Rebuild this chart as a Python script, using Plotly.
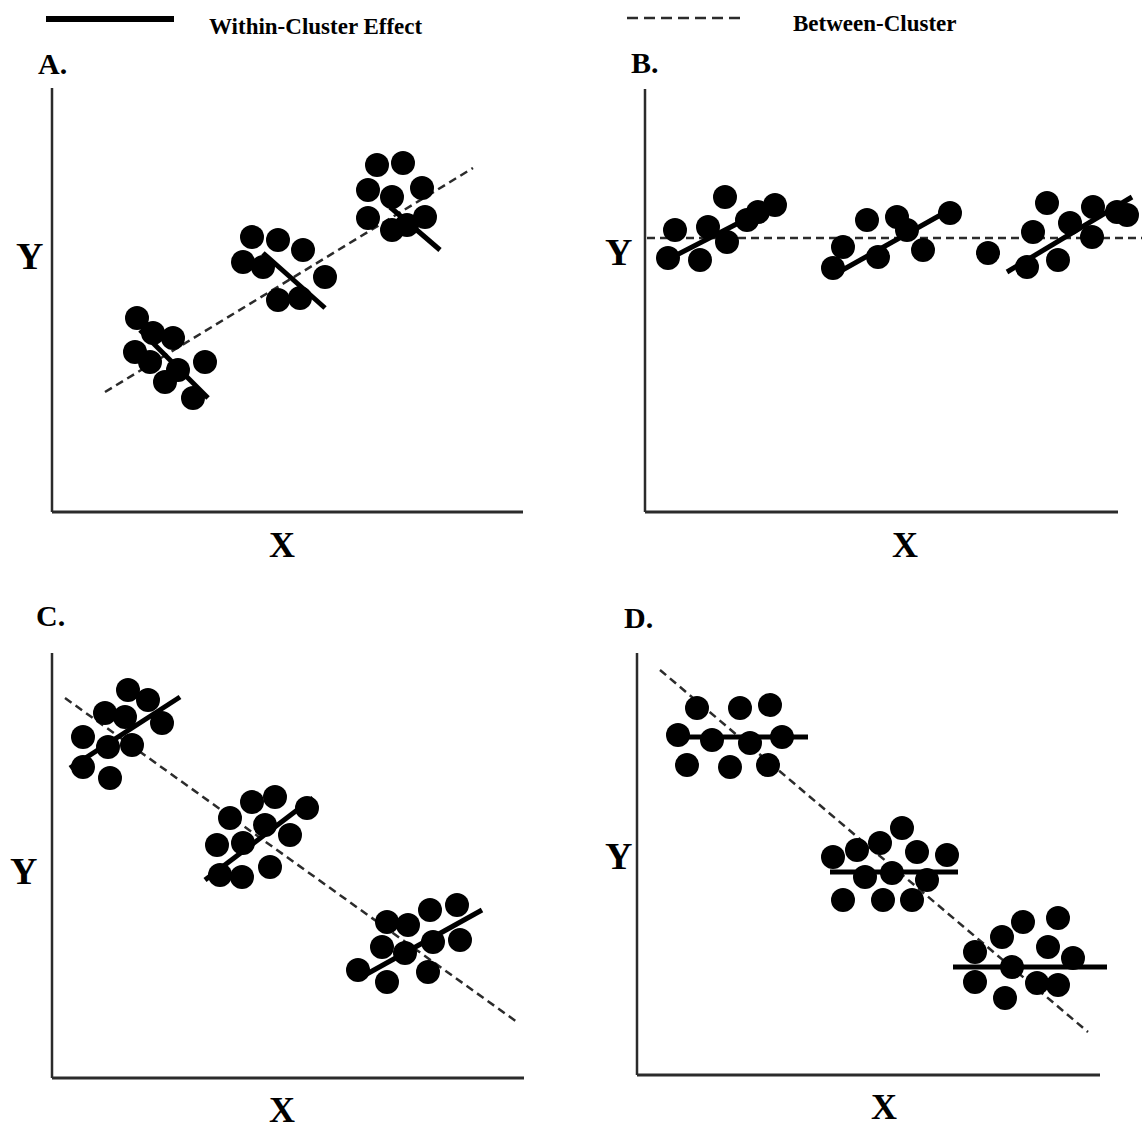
import plotly.graph_objects as go

# ---------------- DATA (arbitrary units) ----------------
# Panel A: positive between-cluster, negative within-cluster
A_dots_x = [85, 101, 121, 83, 98, 153, 126, 113, 141,
            200, 226, 191, 211, 251, 273, 226, 248,
            325, 351, 316, 340, 370, 316, 340, 355, 373]
A_dots_y = [194, 179, 174, 160, 150, 150, 142, 130, 114,
            275, 272, 250, 245, 262, 235, 212, 214,
            347, 349, 322, 315, 324, 294, 282, 287, 295]
A_within_x = [[88, 156], [211, 273], [338, 388]]
A_within_y = [[182, 114], [259, 204], [305, 262]]
A_between_x = [53, 421]
A_between_y = [120, 344]

# Panel B: flat between-cluster, positive within-cluster
B_dots_x = [30, 23, 55, 63, 80, 82, 102, 113, 130,
            198, 188, 222, 233, 252, 262, 278, 305,
            343, 382, 388, 402, 413, 425, 447, 448, 472, 482]
B_dots_y = [282, 254, 252, 285, 315, 270, 292, 300, 307,
            265, 244, 292, 255, 295, 282, 262, 299,
            259, 245, 280, 309, 252, 289, 275, 305, 300, 297]
B_within_x = [[18, 138], [185, 308], [362, 487]]
B_within_y = [[250, 312], [235, 304], [240, 315]]
B_between_x = [2, 497]
B_between_y = [274, 274]

# Panel C: negative between-cluster, positive within-cluster
C_dots_x = [76, 96, 53, 73, 110, 31, 56, 80, 31, 58,
            178, 200, 223, 165, 191, 213, 238, 255, 168, 190, 218,
            335, 356, 378, 405, 330, 353, 381, 408, 306, 335, 376]
C_dots_y = [388, 378, 365, 361, 355, 341, 331, 333, 311, 300,
            260, 276, 281, 233, 235, 253, 243, 270, 203, 201, 211,
            156, 153, 168, 173, 131, 125, 136, 138, 108, 96, 106]
C_within_x = [[18, 128], [153, 261], [313, 430]]
C_within_y = [[310, 381], [198, 280], [103, 168]]
C_between_x = [13, 465]
C_between_y = [380, 56]

# Panel D: negative between-cluster, zero within-cluster
D_dots_x = [60, 103, 133, 41, 75, 113, 145, 50, 93, 131,
            265, 196, 220, 243, 280, 310, 228, 255, 290, 206, 246, 275,
            386, 421, 365, 411, 338, 436, 375, 338, 400, 421, 368]
D_dots_y = [367, 367, 370, 340, 335, 332, 338, 310, 308, 310,
            247, 218, 225, 232, 223, 220, 198, 202, 195, 175, 175, 175,
            153, 157, 138, 128, 123, 117, 108, 93, 92, 90, 77]
D_within_x = [[33, 171], [193, 321], [316, 470]]
D_within_y = [[338, 338], [203, 203], [108, 108]]
D_between_x = [23, 451]
D_between_y = [405, 43]

panel_labels = ["A.", "B.", "C.", "D."]
legend_labels = ["Within-Cluster Effect", "Between-Cluster"]
x_title = "X"
y_title = "Y"

# ---------------- LAYOUT GEOMETRY ----------------
W, H = 1142, 1130
PAD = 8
# ox, oy: pixel position of axis origin; aw, ah: axis-line lengths; pw, ph: plotted extent
geom = [
    dict(ox=52, oy=512, aw=471, ah=424, pw=480, ph=428),
    dict(ox=645, oy=512, aw=473, ah=423, pw=497, ph=428),
    dict(ox=52, oy=1078, aw=472, ah=425, pw=480, ph=428),
    dict(ox=637, oy=1075, aw=463, ah=422, pw=478, ph=428),
]
# label pixel centers: panel letter, Y title, X title
label_pos = [
    dict(letter=(52, 63), y=(29, 256), x=(282, 545)),
    dict(letter=(645, 62), y=(618, 252), x=(905, 545)),
    dict(letter=(51, 615), y=(23, 871), x=(282, 1110)),
    dict(letter=(638, 617), y=(618, 856), x=(884, 1107)),
]

data = [
    (A_dots_x, A_dots_y, A_within_x, A_within_y, A_between_x, A_between_y),
    (B_dots_x, B_dots_y, B_within_x, B_within_y, B_between_x, B_between_y),
    (C_dots_x, C_dots_y, C_within_x, C_within_y, C_between_x, C_between_y),
    (D_dots_x, D_dots_y, D_within_x, D_within_y, D_between_x, D_between_y),
]

FONT = "Liberation Serif"
DARK = "#2b2b2b"


def pxx(x):
    return x / W


def pxy(y):
    return 1 - y / H


fig = go.Figure()
layout_axes = {}
shapes = []
annotations = []

for i, (g, d, lp) in enumerate(zip(geom, data, label_pos)):
    n = "" if i == 0 else str(i + 1)
    xa, ya = "x" + n, "y" + n
    dx, dy, wx, wy, bx, by = d
    layout_axes["xaxis" + n] = dict(
        domain=[pxx(g["ox"] - PAD), pxx(g["ox"] + g["pw"])],
        range=[-PAD, g["pw"]], visible=False, fixedrange=True, anchor=ya)
    layout_axes["yaxis" + n] = dict(
        domain=[pxy(g["oy"] + PAD), pxy(g["oy"] - g["ph"])],
        range=[-PAD, g["ph"]], visible=False, fixedrange=True, anchor=xa)

    # between-cluster dashed line
    fig.add_trace(go.Scatter(x=bx, y=by, mode="lines", xaxis=xa, yaxis=ya,
                             line=dict(color=DARK, width=2.5, dash="8px,5px"),
                             hoverinfo="skip", showlegend=False))
    # dots
    fig.add_trace(go.Scatter(x=dx, y=dy, mode="markers", xaxis=xa, yaxis=ya,
                             marker=dict(color="black", size=24, line=dict(width=0)),
                             hoverinfo="skip", showlegend=False))
    # within-cluster solid lines
    lx, ly = [], []
    for sx, sy in zip(wx, wy):
        lx += sx + [None]
        ly += sy + [None]
    fig.add_trace(go.Scatter(x=lx, y=ly, mode="lines", xaxis=xa, yaxis=ya,
                             line=dict(color="black", width=5),
                             hoverinfo="skip", showlegend=False))

    # L-shaped axes
    shapes.append(dict(type="line", xref=xa, yref=ya, x0=0, y0=0, x1=0, y1=g["ah"],
                       line=dict(color=DARK, width=2.5)))
    shapes.append(dict(type="line", xref=xa, yref=ya, x0=0, y0=0, x1=g["aw"], y1=0,
                       line=dict(color=DARK, width=3)))

    # labels
    annotations.append(dict(text=panel_labels[i], x=pxx(lp["letter"][0]), y=pxy(lp["letter"][1]),
                            xref="paper", yref="paper", showarrow=False,
                            xanchor="center", yanchor="middle",
                            font=dict(family=FONT, size=30, color="black", weight="bold")))
    annotations.append(dict(text=y_title, x=pxx(lp["y"][0]), y=pxy(lp["y"][1]),
                            xref="paper", yref="paper", showarrow=False,
                            xanchor="center", yanchor="middle",
                            font=dict(family=FONT, size=38, color="black", weight="bold")))
    annotations.append(dict(text=x_title, x=pxx(lp["x"][0]), y=pxy(lp["x"][1]),
                            xref="paper", yref="paper", showarrow=False,
                            xanchor="center", yanchor="middle",
                            font=dict(family=FONT, size=36, color="black", weight="bold")))

# legend (drawn as keys + text at the top)
shapes.append(dict(type="line", xref="paper", yref="paper",
                   x0=pxx(46), x1=pxx(174), y0=pxy(19), y1=pxy(19),
                   line=dict(color="black", width=6)))
shapes.append(dict(type="line", xref="paper", yref="paper",
                   x0=pxx(627), x1=pxx(746), y0=pxy(18), y1=pxy(18),
                   line=dict(color=DARK, width=2.5, dash="11px,6px")))
annotations.append(dict(text=legend_labels[0], x=pxx(207), y=pxy(27), xref="paper", yref="paper",
                        showarrow=False, xanchor="left", yanchor="middle",
                        font=dict(family=FONT, size=23, color="black", weight="bold")))
annotations.append(dict(text=legend_labels[1], x=pxx(791), y=pxy(24), xref="paper", yref="paper",
                        showarrow=False, xanchor="left", yanchor="middle",
                        font=dict(family=FONT, size=23, color="black", weight="bold")))

fig.update_layout(
    width=W, height=H, autosize=False,
    margin=dict(l=0, r=0, t=0, b=0, pad=0),
    paper_bgcolor="white", plot_bgcolor="white",
    showlegend=False,
    shapes=shapes, annotations=annotations,
    **layout_axes,
)

fig.write_html("out.html", config={"displayModeBar": False})
